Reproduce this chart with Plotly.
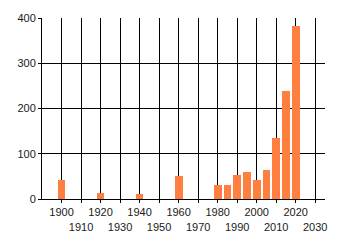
import plotly.graph_objects as go

years = [1900, 1920, 1940, 1960, 1980, 1985, 1990, 1995, 2000, 2005, 2010, 2015, 2020]
values = [41, 13, 10, 51, 30, 30, 54, 60, 41, 64, 135, 238, 382]

tick_years = list(range(1900, 2031, 10))
tick_text = [str(y) if i % 2 == 0 else "<br>" + str(y) for i, y in enumerate(tick_years)]
y_ticks = [0, 100, 200, 300, 400]

fig = go.Figure(go.Bar(x=years, y=values, width=4, marker=dict(color="#ff7f40", line=dict(width=0))))

fig.update_layout(
    width=340, height=245,
    margin=dict(l=42, r=15, t=15, b=44),
    paper_bgcolor="white", plot_bgcolor="white",
    font=dict(family="Liberation Sans, Arial, sans-serif", size=11, color="#1a1a1a"),
    showlegend=False,
    bargap=0,
)
fig.update_xaxes(
    range=[1890, 2035], tickvals=tick_years, ticktext=tick_text,
    showgrid=True, gridcolor="black", gridwidth=1,
    ticks="outside", ticklen=3, tickcolor="black",
    showline=True, linecolor="black", linewidth=1,
    zeroline=False, tickangle=0,
)
fig.update_yaxes(
    range=[0, 400], tickvals=y_ticks,
    showgrid=True, gridcolor="black", gridwidth=1,
    ticks="outside", ticklen=3, tickcolor="black",
    showline=True, linecolor="black", linewidth=1,
    zeroline=False,
)

fig.write_html("out.html")
